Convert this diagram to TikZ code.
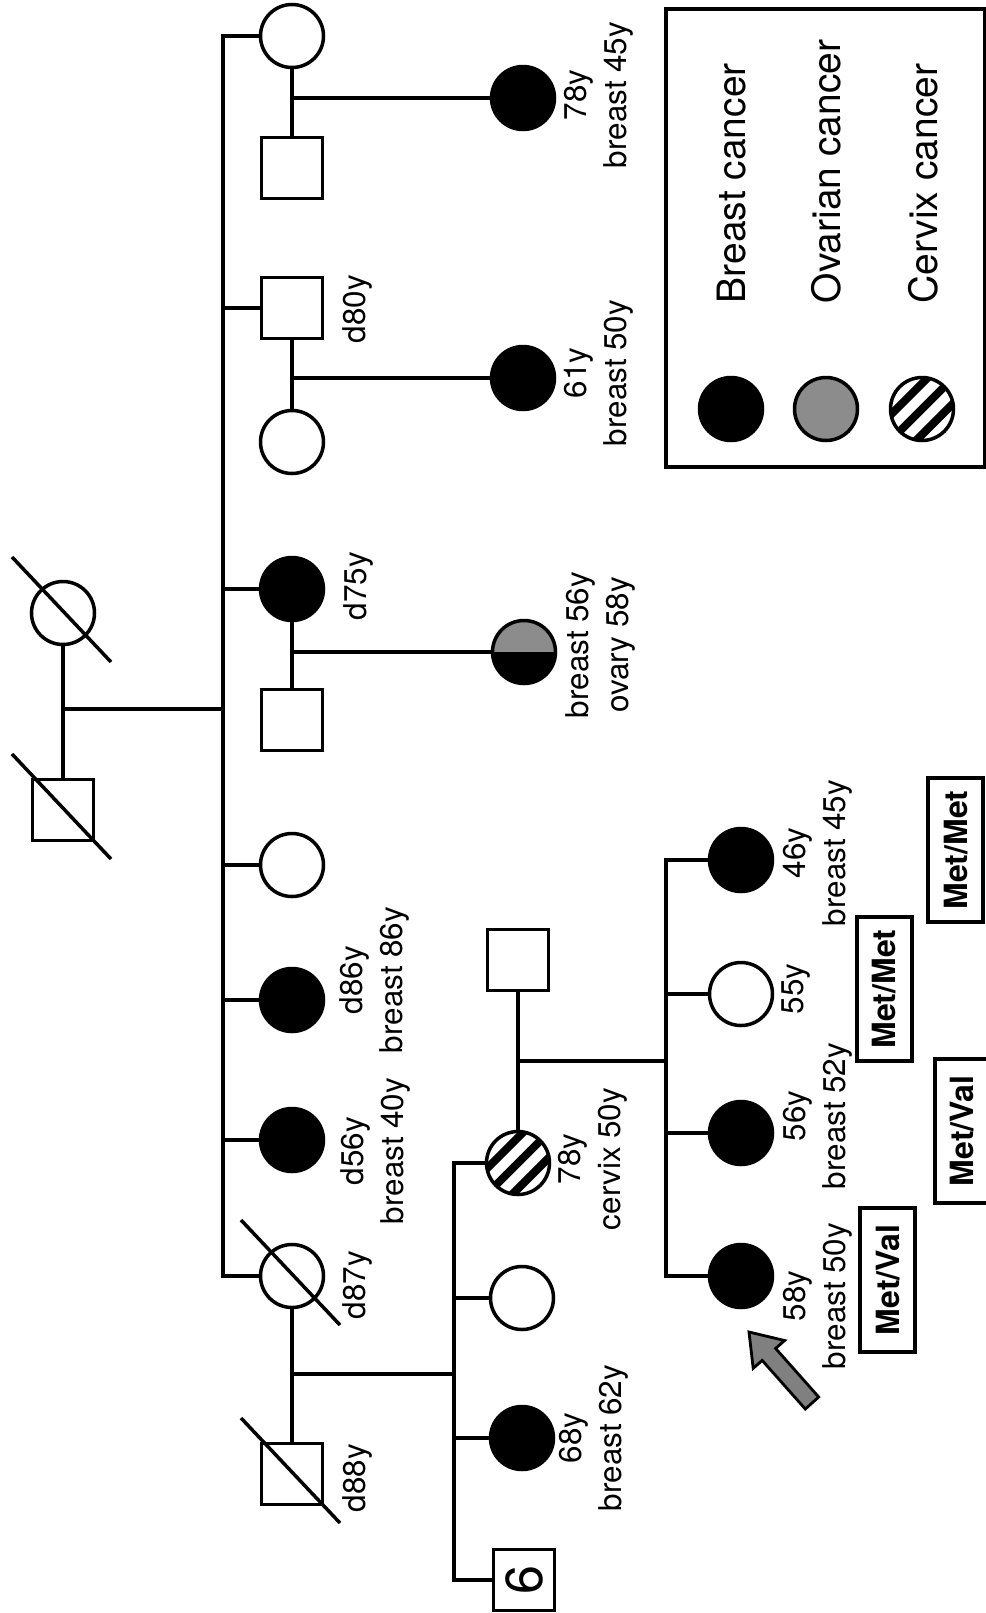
\documentclass[tikz,border=0pt]{standalone}
\usepackage{fontspec}
\setmainfont{TeX Gyre Heros}

\definecolor{ovary}{gray}{0.55}
\definecolor{pointer}{gray}{0.5}

% slash through a deceased person
\newcommand{\deceased}[1]{\draw ([shift={(-51,-56)}]#1.center) -- ([shift={(48,49)}]#1.center);}

\begin{document}
\begin{tikzpicture}[x=0.5pt,y=-0.5pt,line width=1.75pt,
    fem/.style={circle,draw,inner sep=0pt,minimum size=31.5pt},
    male/.style={rectangle,draw,inner sep=0pt,minimum size=30.5pt},
    aff/.style={fill=black},
    ovhalf/.style={fill=black,path picture={\fill[ovary] (path picture bounding box.west) rectangle (path picture bounding box.north east);}},
    cervix/.style={path picture={\foreach \k in {-1,0,1}
        \draw[line width=4pt] ([shift={(\k*6.4pt,\k*-6.4pt)}]path picture bounding box.center) ++(-30pt,-30pt) -- ++(60pt,60pt);}},
    lab/.style={rotate=90,align=center,inner sep=0pt,font=\fontsize{15.7pt}{20pt}\selectfont},
    geno/.style={rotate=90,draw,line width=2pt,inner sep=0pt,minimum width=72pt,minimum height=27.5pt,
        text height=11.5pt,text depth=0pt,font=\fontsize{16pt}{19pt}\selectfont\bfseries},
    legtxt/.style={rotate=90,anchor=base west,inner sep=0pt,font=\fontsize{19.5pt}{23pt}\selectfont}]
    \useasboundingbox (0,0) rectangle (986,1613);

    % generation I
    \node (i1) [fem] at (63,613) {};
    \node (i2) [male] at (63,810) {};
    % generation II
    \node (ii1) [fem] at (292,36) {};
    \node (ii1s) [male] at (292,168) {};
    \node (ii2) [male] at (292,308) {};
    \node (ii2s) [fem] at (292,442) {};
    \node (ii3) [fem,aff] at (292,589) {};
    \node (ii3s) [male] at (292,720) {};
    \node (ii4) [fem] at (292,865) {};
    \node (ii5) [fem,aff] at (292,1000) {};
    \node (ii6) [fem,aff] at (292,1140) {};
    \node (ii7) [fem] at (292,1276) {};
    \node (ii7s) [male] at (292,1474) {};
    % generation III
    \node (iii1) [fem,aff] at (523,98) {};
    \node (iii2) [fem,aff] at (523,378) {};
    \node (iii3) [fem,ovhalf] at (524,652) {};
    \node (iii4s) [male] at (518,960) {};
    \node (iii4) [fem,cervix] at (518,1163) {};
    \node (iii5) [fem] at (522,1298) {};
    \node (iii6) [fem,aff] at (522,1438) {};
    \node (iii7) [male] at (524,1580) {\fontsize{26pt}{30pt}\selectfont\rotatebox{90}{6}};
    % generation IV
    \node (iv1) [fem,aff] at (741,860) {};
    \node (iv2) [fem] at (741,994) {};
    \node (iv3) [fem,aff] at (741,1133) {};
    \node (iv4) [fem,aff] at (741,1276) {};

    \deceased{i1}
    \deceased{i2}
    \deceased{ii7}
    \deceased{ii7s}

    % sibship lines
    \coordinate (sibII) at (223,709);
    \coordinate (sibIII) at (454,1374);
    \coordinate (sibIV) at (666,1061);

    \draw (i1) -- (i2);
    \draw (i1 |- sibII) -- (sibII);
    \draw (ii1) -| (sibII) |- (ii7);
    \foreach \n in {ii2,ii3,ii4,ii5,ii6}
        \draw (sibII |- \n) -- (\n);

    \draw (ii1) -- (ii1s);
    \draw (ii1 |- iii1) -- (iii1);
    \draw (ii2) -- (ii2s);
    \draw (ii2 |- iii2) -- (iii2);
    \draw (ii3) -- (ii3s);
    \draw (ii3 |- iii3) -- (iii3);
    \draw (ii7) -- (ii7s);
    \draw (ii7 |- sibIII) -- (sibIII);

    \draw (iii4) -| (sibIII) |- (iii7);
    \foreach \n in {iii5,iii6}
        \draw (sibIII |- \n) -- (\n);
    \draw (iii4s) -- (iii4);
    \draw (iii4 |- sibIV) -- (sibIV);

    \draw (iv1) -| (sibIV) |- (iv4);
    \foreach \n in {iv2,iv3}
        \draw (sibIV |- \n) -- (\n);

    % ages and diagnoses
    \node (ii2lab) [lab] at (357,309) {d80y};
    \node (ii3lab) [lab] at (358,586) {d75y};
    \node (ii5lab) [lab] at (374,980) {d86y\\breast 86y};
    \node (ii6lab) [lab] at (375,1151) {d56y\\breast 40y};
    \node (ii7lab) [lab] at (357,1285) {d87y};
    \node (ii7slab) [lab] at (357,1478) {d88y};
    \node (iii1lab) [lab] at (599,95) {78y\\breast 45y};
    \node (iii2lab) [lab] at (599,373) {61y\\breast 50y};
    \node (iii3lab) [lab] at (600,645) {breast 56y\\ovary 58y};
    \node (iii4lab) [lab] at (593,1159) {78y\\cervix 50y};
    \node (iii6lab) [lab] at (594,1438) {68y\\breast 62y};
    \node (iv1lab) [lab] at (818,853) {46y\\breast 45y};
    \node (iv2lab) [lab] at (796,989) {55y};
    \node (iv3lab) [lab] at (818,1116) {56y\\breast 52y};
    \node (iv4lab) [lab] at (818,1296) {58y\\breast 50y};

    % genotypes
    \node (gt1) [geno] at (955.5,850) {Met/Met};
    \node (gt2) [geno] at (884,989) {Met/Met};
    \node (gt3) [geno] at (962,1131) {Met/Val};
    \node (gt4) [geno] at (887.5,1280) {Met/Val};

    % proband
    \draw[fill=pointer,line width=1.4pt] (749,1332) -- (784.6,1340.5) -- (775.6,1348.4) -- (818.7,1397)
        -- (805.3,1409) -- (762.2,1360.4) -- (753.2,1368.3) -- cycle;

    % legend
    \node (legend) [draw,line width=2pt,inner sep=0pt,minimum width=159.5pt,minimum height=229pt] at (825.5,238) {};
    \node (lgbreast) [fem,aff] at (731,409) {};
    \node (lgovary) [fem,fill=ovary] at (826,409) {};
    \node (lgcervix) [fem,cervix] at (922,409) {};
    \node (lgbreasttxt) [legtxt] at (745,305) {Breast cancer};
    \node (lgovarytxt) [legtxt] at (840,305) {Ovarian cancer};
    \node (lgcervixtxt) [legtxt] at (937,305) {Cervix cancer};
\end{tikzpicture}
\end{document}
